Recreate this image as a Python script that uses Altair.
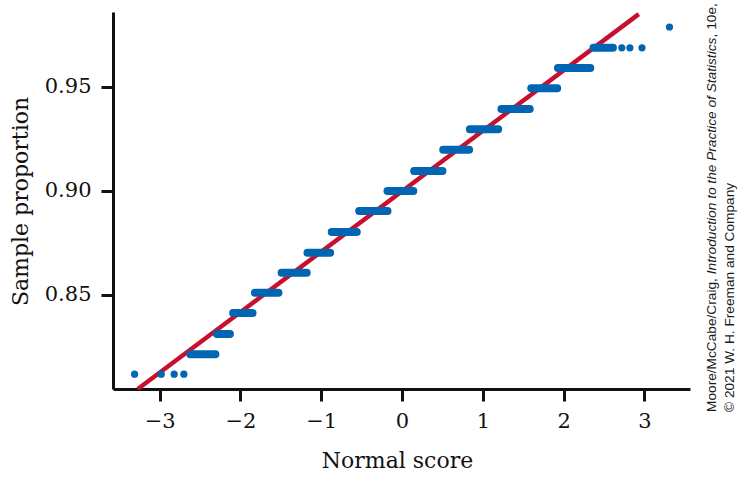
import altair as alt
import pandas as pd

# ---- data ----
# levels of sample proportion (as drawn)
run_levels = [0.8215, 0.8312, 0.8413, 0.8510, 0.8606, 0.8702, 0.8802, 0.8903,
              0.8999, 0.9095, 0.9197, 0.9295, 0.9392, 0.9492, 0.9589, 0.9686]
# normal-score span of each dense run of points (first and last point centres)
run_start = [-2.62, -2.29, -2.09, -1.82, -1.49, -1.17, -0.87, -0.53,
             -0.18, 0.15, 0.51, 0.84, 1.23, 1.60, 1.93, 2.37]
run_end = [-2.31, -2.13, -1.85, -1.53, -1.18, -0.89, -0.56, -0.18,
           0.14, 0.50, 0.83, 1.19, 1.58, 1.92, 2.33, 2.61]
# isolated points in the tails
dot_x = [-3.31, -2.98, -2.82, -2.70, 2.72, 2.82, 2.97, 3.31]
dot_y = [0.8119, 0.8119, 0.8119, 0.8119, 0.9686, 0.9686, 0.9686, 0.9786]
# reference line end points
line_x = [-3.27, 2.93]
line_y = [0.8048, 0.9848]

x_ticks = [-3, -2, -1, 0, 1, 2, 3]
y_ticks = [0.85, 0.90, 0.95]
x_domain = [-3.577, 3.564]
y_domain = [0.8048, 0.9858]

credit_1a = "Moore/McCabe/Craig, "
credit_1b = "Introduction to the Practice of Statistics"
credit_1c = ", 10e,"
credit_2 = "\u00a9 2021 W. H. Freeman and Company"

BLUE = "#0066b3"
RED = "#c8102e"
SERIF = "DejaVu Serif"
SANS = "Liberation Sans"

runs = pd.DataFrame({"y": run_levels, "x0": run_start, "x1": run_end})
dots = pd.DataFrame({"x": dot_x, "y": dot_y})
line = pd.DataFrame({"x": line_x, "y": line_y})

xscale = alt.Scale(domain=x_domain, nice=False, zero=False)
yscale = alt.Scale(domain=y_domain, nice=False, zero=False)

xaxis = alt.Axis(values=x_ticks, format="d", title="Normal score",
                 labelPadding=9, titleX=284, titleY=78,
                 titleBaseline="alphabetic")
yaxis = alt.Axis(values=y_ticks, format=".2f", title="Sample proportion",
                 labelPadding=10, titleX=-86, titleY=189, titleAngle=270,
                 titleAlign="center", titleBaseline="alphabetic")

line_layer = alt.Chart(line).mark_line(color=RED, strokeWidth=4.5).encode(
    x=alt.X("x:Q", scale=xscale, axis=xaxis),
    y=alt.Y("y:Q", scale=yscale, axis=yaxis),
)

run_layer = alt.Chart(runs).mark_rule(color=BLUE, strokeWidth=8, strokeCap="round").encode(
    x=alt.X("x0:Q", scale=xscale),
    x2="x1:Q",
    y=alt.Y("y:Q", scale=yscale),
)

dot_layer = alt.Chart(dots).mark_circle(color=BLUE, size=52, opacity=1).encode(
    x=alt.X("x:Q", scale=xscale),
    y=alt.Y("y:Q", scale=yscale),
)

def credit(text, x, y, italic=False):
    return alt.Chart(pd.DataFrame({"t": [text]})).mark_text(
        angle=270, align="left", baseline="alphabetic", font=SANS,
        fontSize=13.7, fontStyle="italic" if italic else "normal", color="#1a1a1a",
    ).encode(text="t:N", x=alt.value(x), y=alt.value(y))

chart = alt.layer(
    line_layer, run_layer, dot_layer,
    credit(credit_1a, 603, 400),
    credit(credit_1b, 603, 262.2, italic=True),
    credit(credit_1c, 603, 25.4),
    credit(credit_2, 621, 400),
).properties(
    width=577, height=377,
    autosize=alt.AutoSizeParams(type="none"),
    padding={"left": 113, "top": 12, "right": 53, "bottom": 90},
    background="white",
).configure_view(stroke=None).configure_axis(
    grid=False, domainColor="#111111", domainWidth=3, tickColor="#111111",
    tickWidth=3, tickSize=12, labelFont=SERIF, labelFontSize=21,
    labelColor="#111111", titleFont=SERIF, titleFontSize=22,
    titleFontWeight="normal", titleColor="#111111",
)

chart.save("out.html", embed_options={"renderer": "svg", "actions": False})
